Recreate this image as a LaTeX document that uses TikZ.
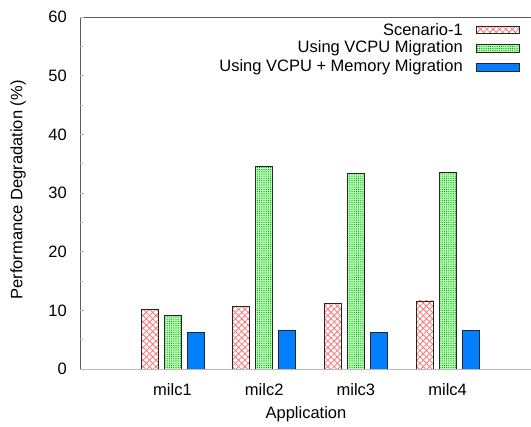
\documentclass[tikz,border=0pt]{standalone}
\usepackage{fontspec}
\setmainfont{Liberation Sans}
\usetikzlibrary{patterns,patterns.meta}
\definecolor{barblue}{RGB}{0,128,255}
\definecolor{axisgray}{RGB}{90,90,90}
\definecolor{basegray}{RGB}{185,185,185}
\tikzset{
  redpatA/.style={pattern={Lines[angle=45,distance=4.5pt,line width=0.8pt]},pattern color=red!55},
  redpatB/.style={pattern={Lines[angle=-45,distance=4.5pt,line width=0.8pt]},pattern color=red!55},
  greenfill/.style={fill=green!30},
  greenpat/.style={pattern={Dots[distance=2.2pt,radius=0.55pt]},pattern color=green!55!black},
  bluefill/.style={fill=barblue},
  barline/.style={draw=black!85,line width=0.8pt},
  txt/.style={inner sep=0pt,font=\fontsize{16.5}{19}\selectfont},
  majtick/.style={draw=basegray,line width=0.6pt}
}
\begin{document}
\begin{tikzpicture}[x=1pt,y=-1pt]
\useasboundingbox (0,0) rectangle (531,427);
% frame
\draw[axisgray,line width=0.8pt] (80,369) -- (80,17) -- (531,17);
% ticks
\foreach \v in {0,10,...,60}{
  \draw[majtick] (80,{369-\v*5.8667}) -- (84,{369-\v*5.8667});
  \node[txt,anchor=east] (yt\v) at (67,{369-\v*5.8667}) {\v};
}
\foreach \v in {5,15,...,55}{
  \draw[majtick] (80,{369-\v*5.8667}) -- (83,{369-\v*5.8667});
}
% bars
\foreach \c/\a/\b/\d [count=\i] in {172.5/10.1/9.2/6.3, 264.2/10.7/34.5/6.6, 355.9/11.2/33.4/6.3, 447.6/11.6/33.5/6.6}{
  \fill[white] ({\c-31.5},369) rectangle ({\c-14.5},{369-\a*5.8667});
  \fill[redpatA] ({\c-31.5},369) rectangle ({\c-14.5},{369-\a*5.8667});
  \fill[redpatB] ({\c-31.5},369) rectangle ({\c-14.5},{369-\a*5.8667});
  \draw[barline] ({\c-31.5},369) rectangle ({\c-14.5},{369-\a*5.8667});
  \fill[greenfill] ({\c-8.5},369) rectangle ({\c+8.5},{369-\b*5.8667});
  \fill[greenpat] ({\c-8.5},369) rectangle ({\c+8.5},{369-\b*5.8667});
  \draw[barline] ({\c-8.5},369) rectangle ({\c+8.5},{369-\b*5.8667});
  \draw[barline,bluefill] ({\c+14.5},369) rectangle ({\c+31.5},{369-\d*5.8667});
  \node[txt] (lab\i) at (\c,390) {milc\i};
}
% baseline
\draw[basegray,line width=1.2pt] (80,369.5) -- (531,369.5);
% axis titles
\node[txt] (xtitle) at (306,414) {Application};
\node[txt,rotate=90] (ytitle) at (18,190) {Performance Degradation (\%)};
% legend
\node[txt,anchor=east] (l1) at (463,30) {Scenario-1};
\node[txt,anchor=east] (l2) at (463,48.5) {Using VCPU Migration};
\node[txt,anchor=east] (l3) at (463,67) {Using VCPU + Memory Migration};
\fill[white] (476.7,26.3) rectangle (519.3,33.7);
\fill[redpatA] (476.7,26.3) rectangle (519.3,33.7);
\fill[redpatB] (476.7,26.3) rectangle (519.3,33.7);
\draw[barline] (476.7,26.3) rectangle (519.3,33.7);
\fill[greenfill] (476.7,44.8) rectangle (519.3,52.5);
\fill[greenpat] (476.7,44.8) rectangle (519.3,52.5);
\draw[barline] (476.7,44.8) rectangle (519.3,52.5);
\draw[barline,bluefill] (476.7,63.5) rectangle (519.3,71.5);
\end{tikzpicture}
\end{document}
